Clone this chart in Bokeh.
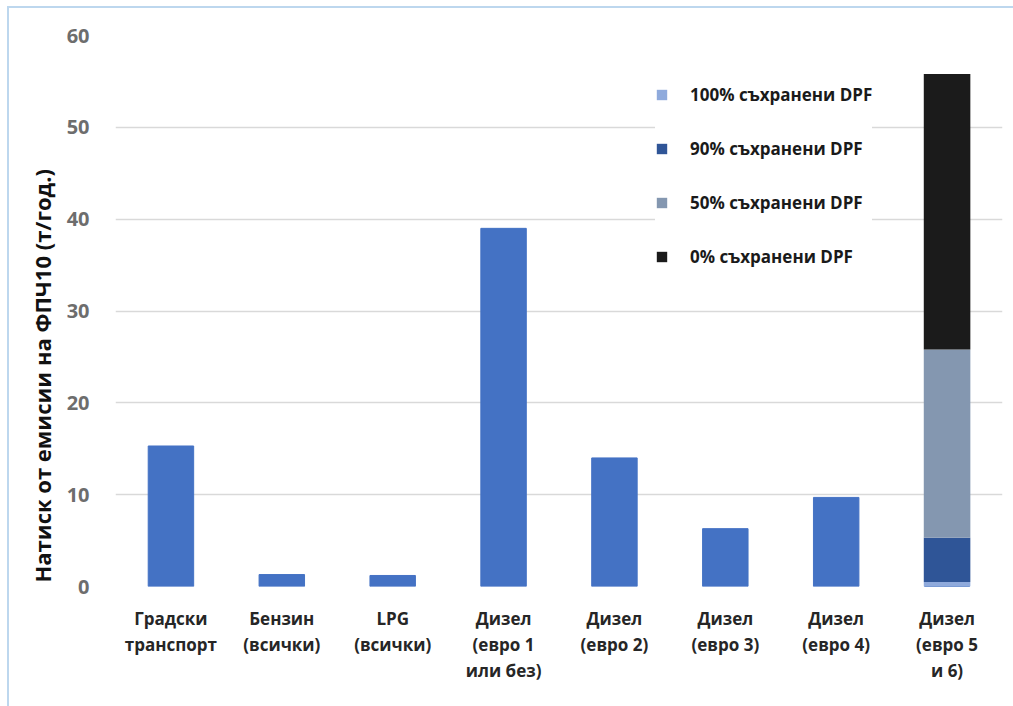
from bokeh.plotting import figure
from bokeh.models import Legend, LegendItem, FactorRange, Range1d, SingleIntervalTicker, Title
from bokeh.embed import file_html
from bokeh.resources import INLINE

# Vehicle groups (x categories)
categories = [
    "Градски\nтранспорт",
    "Бензин\n(всички)",
    "LPG\n(всички)",
    "Дизел\n(евро 1\nили без)",
    "Дизел\n(евро 2)",
    "Дизел\n(евро 3)",
    "Дизел\n(евро 4)",
    "Дизел\n(евро 5\nи 6)",
]

# PM10 emission pressure, t/year (single bars)
totals = [15.3, 1.3, 1.2, 39.0, 14.0, 6.3, 9.7, 0.0]

# Euro 5/6 diesel split by share of retained DPF (stacked, bottom to top)
dpf_100 = [0, 0, 0, 0, 0, 0, 0, 0.5]
dpf_90 = [0, 0, 0, 0, 0, 0, 0, 4.8]
dpf_50 = [0, 0, 0, 0, 0, 0, 0, 20.5]
dpf_0 = [0, 0, 0, 0, 0, 0, 0, 30.0]

stack_keys = ["dpf_100", "dpf_90", "dpf_50", "dpf_0"]
stack_labels = ["100% съхранени DPF", "90% съхранени DPF", "50% съхранени DPF", "0% съхранени DPF"]
stack_colors = ["#8faadc", "#2f5597", "#8497b0", "#1b1b1b"]

y_title = "Натиск от емисии на ФПЧ10 (т/год.)"

FONT = "Open Sans"

p = figure(
    x_range=FactorRange(*categories, range_padding=0.0),
    y_range=Range1d(0, 60),
    width=1006, height=700,
    output_backend="svg", toolbar_location=None,
    min_border_left=106, min_border_right=13, min_border_top=27, min_border_bottom=122,
    outline_line_color=None,
)
p.margin = (6, 0, 0, 7)
p.styles = {"border-top": "2px solid #bdd7ee", "border-left": "2px solid #bdd7ee"}

src = dict(x=categories, totals=totals, dpf_100=dpf_100, dpf_90=dpf_90, dpf_50=dpf_50, dpf_0=dpf_0)

p.vbar(x="x", top="totals", width=0.41, source=src, color="#4472c4")
stacked = p.vbar_stack(stack_keys, x="x", width=0.42, source=src, color=stack_colors, line_color=None)

legend = Legend(
    items=[LegendItem(label=lab, renderers=[r]) for lab, r in zip(stack_labels, stacked)],
    location=(540, 318),
    padding=0, margin=0, spacing=31,
    glyph_width=13, glyph_height=13, label_standoff=22,
    label_text_font=FONT, label_text_font_style="bold", label_text_font_size="17px",
    label_text_color="#1a1a1a", border_line_color=None, background_fill_alpha=1.0,
)
p.add_layout(legend)

# Axes and grid
p.xgrid.grid_line_color = None
p.ygrid.grid_line_color = "#d9d9d9"
p.ygrid.grid_line_width = 1.5
p.yaxis.ticker = SingleIntervalTicker(interval=10)

p.yaxis.axis_line_color = None
p.yaxis.major_tick_line_color = None
p.yaxis.minor_tick_line_color = None
p.yaxis.major_label_standoff = 20
p.yaxis.major_label_text_font = FONT
p.yaxis.major_label_text_font_style = "bold"
p.yaxis.major_label_text_font_size = "20px"
p.yaxis.major_label_text_color = "#6d6d6d"

# Vertical title on the left, anchored near the bottom of the value axis
p.add_layout(Title(
    text=y_title, align="left", offset=4, standoff=13,
    text_font=FONT, text_font_style="bold", text_font_size="22px", text_color="#111111",
), "left")

p.xaxis.axis_line_color = None
p.xaxis.major_tick_line_color = None
p.xaxis.major_label_standoff = 14
p.xaxis.major_label_text_font = FONT
p.xaxis.major_label_text_font_style = "bold"
p.xaxis.major_label_text_font_size = "17px"
p.xaxis.major_label_text_color = "#262626"
p.xaxis.major_label_text_line_height = 1.15

open("out.html", "w").write(file_html(p, INLINE))
